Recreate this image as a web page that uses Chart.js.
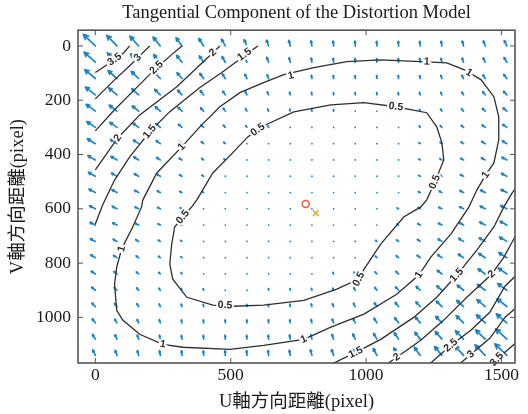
<!DOCTYPE html>
<html>
<head>
<meta charset="utf-8">
<script src="https://cdn.jsdelivr.net/npm/chart.js@4.4.1/dist/chart.umd.min.js"></script>
<style>
  html, body { margin: 0; background: #fff; }
  #wrap { width: 528px; height: 414px; }
</style>
</head>
<body>
<div id="wrap"><canvas id="chart"></canvas></div>
<script>
// axis ticks
const xTicks = [0, 500, 1000, 1500];
const yTicks = [0, 200, 400, 600, 800, 1000];

// quiver grid (image pixels) and tangential distortion per grid point (pixels)
const gridU = [0, 80, 160, 240, 320, 400, 480, 560, 640, 720, 800, 880, 960, 1040, 1120, 1200, 1280, 1360, 1440, 1520];
const gridV = [0, 60, 120, 180, 240, 300, 360, 420, 480, 540, 600, 660, 720, 780, 840, 900, 960, 1020, 1080, 1140];

const arrowDU = [
  [-2.94, -2.52, -2.13, -1.78, -1.45, -1.17, -0.91, -0.69, -0.50, -0.35, -0.23, -0.14, -0.08, -0.06, -0.07, -0.12, -0.19, -0.31, -0.45, -0.63],
  [-2.76, -2.35, -1.98, -1.64, -1.33, -1.05, -0.81, -0.60, -0.43, -0.28, -0.18, -0.10, -0.06, -0.05, -0.07, -0.13, -0.22, -0.35, -0.50, -0.69],
  [-2.59, -2.19, -1.83, -1.50, -1.21, -0.94, -0.72, -0.52, -0.36, -0.23, -0.13, -0.07, -0.04, -0.04, -0.08, -0.15, -0.25, -0.39, -0.56, -0.77],
  [-2.42, -2.04, -1.69, -1.38, -1.09, -0.84, -0.63, -0.44, -0.29, -0.18, -0.09, -0.04, -0.03, -0.04, -0.09, -0.18, -0.29, -0.44, -0.63, -0.84],
  [-2.27, -1.90, -1.56, -1.26, -0.99, -0.75, -0.54, -0.37, -0.24, -0.13, -0.06, -0.03, -0.02, -0.05, -0.11, -0.21, -0.34, -0.50, -0.70, -0.93],
  [-2.11, -1.76, -1.43, -1.14, -0.88, -0.66, -0.47, -0.31, -0.19, -0.10, -0.04, -0.01, -0.02, -0.07, -0.14, -0.25, -0.39, -0.57, -0.78, -1.02],
  [-1.97, -1.62, -1.31, -1.03, -0.79, -0.58, -0.40, -0.25, -0.14, -0.06, -0.02, -0.01, -0.03, -0.09, -0.17, -0.30, -0.45, -0.64, -0.86, -1.11],
  [-1.83, -1.49, -1.20, -0.93, -0.70, -0.50, -0.34, -0.20, -0.10, -0.04, -0.01, -0.01, -0.04, -0.11, -0.21, -0.35, -0.51, -0.72, -0.95, -1.22],
  [-1.69, -1.37, -1.09, -0.83, -0.62, -0.43, -0.28, -0.16, -0.07, -0.02, 0.00, -0.02, -0.06, -0.14, -0.26, -0.40, -0.59, -0.80, -1.05, -1.33],
  [-1.56, -1.26, -0.98, -0.75, -0.54, -0.37, -0.23, -0.12, -0.05, -0.01, 0.00, -0.03, -0.09, -0.18, -0.31, -0.47, -0.66, -0.89, -1.15, -1.44],
  [-1.44, -1.15, -0.89, -0.66, -0.47, -0.31, -0.18, -0.09, -0.03, 0.00, -0.01, -0.05, -0.12, -0.23, -0.37, -0.54, -0.75, -0.98, -1.26, -1.56],
  [-1.33, -1.05, -0.80, -0.59, -0.40, -0.26, -0.14, -0.06, -0.02, 0.00, -0.02, -0.07, -0.16, -0.28, -0.43, -0.62, -0.83, -1.09, -1.37, -1.69],
  [-1.22, -0.95, -0.72, -0.51, -0.35, -0.21, -0.11, -0.04, -0.01, -0.01, -0.04, -0.10, -0.20, -0.34, -0.50, -0.70, -0.93, -1.20, -1.49, -1.83],
  [-1.11, -0.86, -0.64, -0.45, -0.30, -0.17, -0.09, -0.03, -0.01, -0.02, -0.06, -0.14, -0.25, -0.40, -0.58, -0.79, -1.03, -1.31, -1.62, -1.97],
  [-1.02, -0.78, -0.57, -0.39, -0.25, -0.14, -0.07, -0.02, -0.01, -0.04, -0.10, -0.19, -0.31, -0.47, -0.66, -0.88, -1.14, -1.43, -1.76, -2.11],
  [-0.93, -0.70, -0.50, -0.34, -0.21, -0.11, -0.05, -0.02, -0.03, -0.06, -0.13, -0.24, -0.37, -0.54, -0.75, -0.99, -1.26, -1.56, -1.90, -2.27],
  [-0.84, -0.63, -0.44, -0.29, -0.18, -0.09, -0.04, -0.03, -0.04, -0.09, -0.18, -0.29, -0.44, -0.63, -0.84, -1.09, -1.38, -1.69, -2.04, -2.42],
  [-0.77, -0.56, -0.39, -0.25, -0.15, -0.08, -0.04, -0.04, -0.07, -0.13, -0.23, -0.36, -0.52, -0.72, -0.94, -1.21, -1.50, -1.83, -2.19, -2.59],
  [-0.69, -0.50, -0.35, -0.22, -0.13, -0.07, -0.05, -0.06, -0.10, -0.18, -0.28, -0.43, -0.60, -0.81, -1.05, -1.33, -1.64, -1.98, -2.35, -2.76],
  [-0.63, -0.45, -0.31, -0.19, -0.12, -0.07, -0.06, -0.08, -0.14, -0.23, -0.35, -0.50, -0.69, -0.91, -1.17, -1.45, -1.78, -2.13, -2.52, -2.94]
];

const arrowDV = [
  [-2.82, -2.59, -2.37, -2.17, -1.99, -1.83, -1.68, -1.55, -1.44, -1.34, -1.26, -1.20, -1.16, -1.13, -1.12, -1.12, -1.15, -1.19, -1.24, -1.32],
  [-2.48, -2.26, -2.05, -1.86, -1.69, -1.53, -1.39, -1.27, -1.17, -1.08, -1.01, -0.95, -0.92, -0.90, -0.90, -0.91, -0.94, -0.99, -1.06, -1.14],
  [-2.17, -1.96, -1.76, -1.58, -1.41, -1.26, -1.13, -1.02, -0.92, -0.84, -0.78, -0.74, -0.71, -0.70, -0.70, -0.72, -0.76, -0.82, -0.90, -0.99],
  [-1.89, -1.68, -1.49, -1.32, -1.16, -1.02, -0.90, -0.80, -0.71, -0.64, -0.58, -0.55, -0.53, -0.52, -0.54, -0.57, -0.62, -0.68, -0.77, -0.86],
  [-1.64, -1.44, -1.26, -1.09, -0.95, -0.81, -0.70, -0.60, -0.52, -0.46, -0.41, -0.39, -0.37, -0.38, -0.40, -0.44, -0.50, -0.57, -0.66, -0.77],
  [-1.42, -1.23, -1.05, -0.90, -0.76, -0.63, -0.53, -0.44, -0.37, -0.31, -0.28, -0.25, -0.25, -0.27, -0.30, -0.34, -0.41, -0.49, -0.59, -0.71],
  [-1.22, -1.04, -0.87, -0.73, -0.59, -0.48, -0.38, -0.30, -0.24, -0.19, -0.16, -0.15, -0.16, -0.18, -0.22, -0.27, -0.35, -0.44, -0.55, -0.67],
  [-1.06, -0.88, -0.73, -0.59, -0.46, -0.36, -0.27, -0.20, -0.14, -0.10, -0.08, -0.08, -0.09, -0.12, -0.17, -0.23, -0.32, -0.41, -0.53, -0.66],
  [-0.92, -0.76, -0.61, -0.47, -0.36, -0.26, -0.18, -0.12, -0.07, -0.04, -0.03, -0.03, -0.05, -0.09, -0.15, -0.22, -0.31, -0.42, -0.54, -0.68],
  [-0.81, -0.66, -0.51, -0.39, -0.28, -0.20, -0.12, -0.07, -0.03, -0.01, 0.00, -0.02, -0.05, -0.09, -0.16, -0.24, -0.34, -0.45, -0.58, -0.73],
  [-0.73, -0.58, -0.45, -0.34, -0.24, -0.16, -0.09, -0.05, -0.02, 0.00, -0.01, -0.03, -0.07, -0.12, -0.20, -0.28, -0.39, -0.51, -0.66, -0.81],
  [-0.68, -0.54, -0.42, -0.31, -0.22, -0.15, -0.09, -0.05, -0.03, -0.03, -0.04, -0.07, -0.12, -0.18, -0.26, -0.36, -0.47, -0.61, -0.76, -0.92],
  [-0.66, -0.53, -0.41, -0.32, -0.23, -0.17, -0.12, -0.09, -0.08, -0.08, -0.10, -0.14, -0.20, -0.27, -0.36, -0.46, -0.59, -0.73, -0.88, -1.06],
  [-0.67, -0.55, -0.44, -0.35, -0.27, -0.22, -0.18, -0.16, -0.15, -0.16, -0.19, -0.24, -0.30, -0.38, -0.48, -0.59, -0.73, -0.87, -1.04, -1.22],
  [-0.71, -0.59, -0.49, -0.41, -0.34, -0.30, -0.27, -0.25, -0.25, -0.28, -0.31, -0.37, -0.44, -0.53, -0.63, -0.76, -0.90, -1.05, -1.23, -1.42],
  [-0.77, -0.66, -0.57, -0.50, -0.44, -0.40, -0.38, -0.37, -0.39, -0.41, -0.46, -0.52, -0.60, -0.70, -0.81, -0.95, -1.09, -1.26, -1.44, -1.64],
  [-0.86, -0.77, -0.68, -0.62, -0.57, -0.54, -0.52, -0.53, -0.55, -0.58, -0.64, -0.71, -0.80, -0.90, -1.02, -1.16, -1.32, -1.49, -1.68, -1.89],
  [-0.99, -0.90, -0.82, -0.76, -0.72, -0.70, -0.70, -0.71, -0.74, -0.78, -0.84, -0.92, -1.02, -1.13, -1.26, -1.41, -1.58, -1.76, -1.96, -2.17],
  [-1.14, -1.06, -0.99, -0.94, -0.91, -0.90, -0.90, -0.92, -0.95, -1.01, -1.08, -1.17, -1.27, -1.39, -1.53, -1.69, -1.86, -2.05, -2.26, -2.48],
  [-1.32, -1.24, -1.19, -1.15, -1.12, -1.12, -1.13, -1.16, -1.20, -1.26, -1.34, -1.44, -1.55, -1.68, -1.83, -1.99, -2.17, -2.37, -2.59, -2.82]
];

// contour lines of the distortion magnitude, [u, v] pairs
const contour05 = [[622,294],[733,243],[870,217],[992,209],[1110,224],[1224,246],[1261,298],[1280,357],[1287,420],[1254,501],[1224,567],[1202,593],[1139,630],[1054,730],[992,823],[973,859],[892,896],[770,937],[622,955],[507,959],[434,955],[338,926],[286,859],[275,804],[282,730],[293,667],[323,630],[356,593],[375,567],[434,468],[507,394],[563,335],[600,309],[622,294]];
const contour10 = [[175,568],[227,468],[319,372],[386,298],[460,224],[534,172],[619,136],[696,106],[807,80],[929,58],[1054,51],[1202,58],[1298,62],[1361,87],[1424,124],[1472,187],[1490,261],[1490,346],[1472,431],[1442,475],[1409,531],[1380,593],[1313,693],[1239,778],[1195,844],[1113,915],[992,988],[870,1036],[770,1081],[622,1103],[496,1118],[323,1110],[249,1099],[164,1062],[101,1010],[79,974],[71,878],[79,815],[97,748],[138,667],[171,593],[175,568]];
const contour15a = [[0,656],[27,586],[71,494],[127,409],[201,316],[274,243],[385,154],[467,98],[551,36],[600,0]];
const contour15b = [[856,1180],[962,1129],[1054,1081],[1176,1000],[1261,926],[1335,844],[1409,752],[1472,667],[1509,593],[1539,542],[1570,500]];
const contour20a = [[0,457],[83,339],[164,254],[301,150],[434,25],[460,0]];
const contour20b = [[1065,1180],[1113,1147],[1202,1084],[1287,1010],[1372,926],[1464,841],[1509,778],[1539,723],[1570,670]];
const contour25a = [[0,313],[71,235],[145,161],[226,80],[282,32],[320,0]];
const contour25b = [[1225,1180],[1313,1103],[1387,1047],[1457,981],[1513,885],[1570,830]];
const contour30a = [[0,195],[71,125],[127,73],[157,43],[201,0]];
const contour30b = [[1335,1180],[1387,1136],[1457,1077],[1513,1000],[1570,950]];
const contour35a = [[0,98],[38,73],[71,50],[105,25],[127,0]];
const contour35b = [[1460,1180],[1483,1155],[1520,1122],[1570,1080]];

// inline contour labels: [level, u, v]
const contourLabels = [
  [0.5,600,309],[0.5,1110,224],[0.5,1254,501],[0.5,973,859],[0.5,479,955],[0.5,323,630],
  [1,319,372],[1,722,110],[1,1224,58],[1,1380,99],[1,1442,475],[1,1195,844],[1,770,1081],[1,249,1099],[1,97,748],
  [1.5,201,316],[1.5,551,32],[1.5,962,1129],[1.5,1335,844],
  [2,83,339],[2,434,25],[2,1113,1147],[2,1464,841],
  [2.5,226,80],[2.5,1313,1103],
  [3,157,43],[3,1387,1136],
  [3.5,71,50],[3.5,1483,1155]
];

const principalPoint = [777, 582];
const imageCenter = [814, 616];

const contourSets = [
  [0.5, contour05], [1, contour10],
  [1.5, contour15a], [1.5, contour15b],
  [2, contour20a], [2, contour20b],
  [2.5, contour25a], [2.5, contour25b],
  [3, contour30a], [3, contour30b],
  [3.5, contour35a], [3.5, contour35b]
];

const serif = '"Liberation Serif", "Times New Roman", "Noto Sans CJK TC", serif';
const inkColor = '#1a1a1a';

// quiver arrows, autoscaled like MATLAB (longest arrow ~0.9 of a grid cell)
const quiverPlugin = {
  id: 'quiver',
  beforeDatasetsDraw(chart) {
    const { ctx, chartArea: a, scales: { x, y } } = chart;
    const cellU = gridU[1] - gridU[0], cellV = gridV[1] - gridV[0];
    let maxLen = 0;
    arrowDU.forEach((row, j) => row.forEach((d, i) => {
      maxLen = Math.max(maxLen, Math.hypot(d / cellU, arrowDV[j][i] / cellV));
    }));
    const s = 0.9 / maxLen;
    ctx.save();
    ctx.beginPath();
    ctx.rect(a.left, a.top, a.right - a.left, a.bottom - a.top);
    ctx.clip();
    ctx.strokeStyle = '#1a84c8';
    ctx.fillStyle = '#1a84c8';
    ctx.lineWidth = 1.7;
    ctx.lineCap = 'round';
    ctx.lineJoin = 'round';
    gridV.forEach((v, j) => gridU.forEach((u, i) => {
      const x0 = x.getPixelForValue(u), y0 = y.getPixelForValue(v);
      const x1 = x.getPixelForValue(u + s * arrowDU[j][i]);
      const y1 = y.getPixelForValue(v + s * arrowDV[j][i]);
      const len = Math.hypot(x1 - x0, y1 - y0);
      if (len < 1.6) {
        ctx.beginPath();
        ctx.arc(x0, y0, 0.9, 0, Math.PI * 2);
        ctx.fill();
        return;
      }
      const ang = Math.atan2(y1 - y0, x1 - x0);
      const h = len * 0.33;
      ctx.beginPath();
      ctx.moveTo(x0, y0);
      ctx.lineTo(x1, y1);
      ctx.moveTo(x1 - h * Math.cos(ang - 0.45), y1 - h * Math.sin(ang - 0.45));
      ctx.lineTo(x1, y1);
      ctx.lineTo(x1 - h * Math.cos(ang + 0.45), y1 - h * Math.sin(ang + 0.45));
      ctx.stroke();
    }));
    ctx.restore();
  }
};

function segDist(px, py, ax, ay, bx, by) {
  const dx = bx - ax, dy = by - ay;
  const t = Math.max(0, Math.min(1, ((px - ax) * dx + (py - ay) * dy) / (dx * dx + dy * dy || 1)));
  return Math.hypot(px - ax - t * dx, py - ay - t * dy);
}

// clabel-style text along the contour
const labelPlugin = {
  id: 'clabels',
  afterDatasetsDraw(chart) {
    const { ctx, scales: { x, y } } = chart;
    ctx.save();
    ctx.font = 'bold 10.5px "Liberation Sans", Arial, sans-serif';
    ctx.textAlign = 'center';
    ctx.textBaseline = 'middle';
    contourLabels.forEach(([lvl, u, v]) => {
      const px = x.getPixelForValue(u), py = y.getPixelForValue(v);
      let best = Infinity, ang = 0;
      contourSets.filter(c => c[0] === lvl).forEach(([, pts]) => {
        for (let k = 0; k < pts.length - 1; k++) {
          const ax = x.getPixelForValue(pts[k][0]), ay = y.getPixelForValue(pts[k][1]);
          const bx = x.getPixelForValue(pts[k + 1][0]), by = y.getPixelForValue(pts[k + 1][1]);
          const d = segDist(px, py, ax, ay, bx, by);
          if (d < best) { best = d; ang = Math.atan2(by - ay, bx - ax); }
        }
      });
      if (ang > Math.PI / 2) ang -= Math.PI;
      if (ang < -Math.PI / 2) ang += Math.PI;
      ctx.save();
      ctx.translate(px, py);
      ctx.rotate(ang);
      ctx.lineWidth = 4;
      ctx.strokeStyle = '#fff';
      ctx.strokeText(String(lvl), 0, 0);
      ctx.fillStyle = '#2a2a2a';
      ctx.fillText(String(lvl), 0, 0);
      ctx.restore();
    });
    ctx.restore();
  }
};

// box with inward ticks on all four sides
const boxPlugin = {
  id: 'box',
  afterDraw(chart) {
    const { ctx, chartArea: a, scales: { x, y } } = chart;
    const tl = 5;
    ctx.save();
    ctx.strokeStyle = '#555';
    ctx.lineWidth = 1.6;
    ctx.strokeRect(a.left, a.top, a.right - a.left, a.bottom - a.top);
    ctx.lineWidth = 1;
    ctx.beginPath();
    xTicks.forEach(t => {
      const px = x.getPixelForValue(t);
      ctx.moveTo(px, a.bottom); ctx.lineTo(px, a.bottom - tl);
      ctx.moveTo(px, a.top); ctx.lineTo(px, a.top + tl);
    });
    yTicks.forEach(t => {
      const py = y.getPixelForValue(t);
      ctx.moveTo(a.left, py); ctx.lineTo(a.left + tl, py);
      ctx.moveTo(a.right, py); ctx.lineTo(a.right - tl, py);
    });
    ctx.stroke();
    ctx.restore();
  }
};

const datasets = contourSets.map(([lvl, pts]) => ({
  label: 'level ' + lvl,
  data: pts.map(p => ({ x: p[0], y: p[1] })),
  showLine: true,
  borderColor: '#2e2e2e',
  borderWidth: 1.3,
  pointRadius: 0,
  pointHitRadius: 0,
  tension: 0
}));

datasets.push({
  label: 'principal point',
  data: [{ x: principalPoint[0], y: principalPoint[1] }],
  pointStyle: 'circle',
  pointRadius: 3.5,
  borderColor: '#e2603a',
  backgroundColor: 'rgba(0,0,0,0)',
  borderWidth: 1.5
});
datasets.push({
  label: 'image center',
  data: [{ x: imageCenter[0], y: imageCenter[1] }],
  pointStyle: 'crossRot',
  pointRadius: 4,
  borderColor: '#eca233',
  borderWidth: 1.5
});

new Chart(document.getElementById('chart'), {
  type: 'scatter',
  data: { datasets },
  options: {
    responsive: true,
    maintainAspectRatio: false,
    animation: false,
    layout: { padding: { right: 13 } },
    plugins: {
      legend: { display: false },
      tooltip: { enabled: false },
      title: {
        display: true,
        fullSize: false,
        text: 'Tangential Component of the Distortion Model',
        color: inkColor,
        font: { family: serif, size: 18.5, weight: 'normal' },
        padding: { top: 2, bottom: 6 }
      }
    },
    scales: {
      x: {
        type: 'linear',
        min: -64,
        max: 1550,
        afterFit: s => { s.height = 51; },
        afterBuildTicks: s => { s.ticks = xTicks.map(v => ({ value: v })); },
        grid: { display: false, drawTicks: false },
        border: { display: false },
        ticks: { color: inkColor, font: { family: serif, size: 17.5 }, padding: 2, maxRotation: 0, callback: v => String(v) },
        title: {
          display: true,
          text: 'U軸方向距離(pixel)',
          color: inkColor,
          font: { family: serif, size: 18.5 },
          padding: { top: 0, bottom: 1 }
        }
      },
      y: {
        type: 'linear',
        reverse: true,
        min: -58,
        max: 1168,
        afterFit: s => { s.width = 78; },
        afterBuildTicks: s => { s.ticks = yTicks.map(v => ({ value: v })); },
        grid: { display: false, drawTicks: false },
        border: { display: false },
        ticks: { color: inkColor, font: { family: serif, size: 17.5 }, padding: 7, callback: v => String(v) },
        title: {
          display: true,
          text: 'V軸方向距離(pixel)',
          color: inkColor,
          font: { family: serif, size: 18.5 },
          padding: { top: 7, bottom: 0 }
        }
      }
    }
  },
  plugins: [quiverPlugin, labelPlugin, boxPlugin]
});
</script>
</body>
</html>
